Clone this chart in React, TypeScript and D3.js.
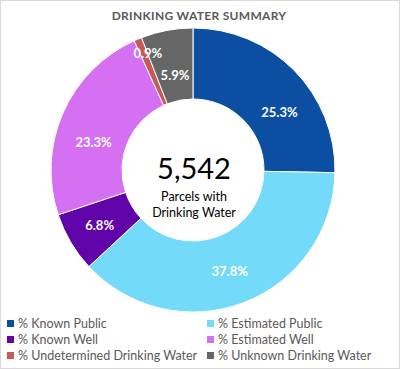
import React from 'react';
import * as d3 from 'd3';

const categories = [
  '% Known Public',
  '% Estimated Public',
  '% Known Well',
  '% Estimated Well',
  '% Undetermined Drinking Water',
  '% Unknown Drinking Water',
];
const shares = [25.3, 37.8, 6.8, 23.3, 0.9, 5.9];
const sliceColors = ['#0B4EA2', '#74DAF9', '#6003A8', '#D670F2', '#C55A56', '#666666'];
const totalParcels = 5542;
const title = 'DRINKING WATER SUMMARY';
const centerCaption = ['Parcels with', 'Drinking Water'];

// Excel pushes a few labels off the plain centroid
const labelNudge: Record<string, [number, number]> = {
  '% Known Public': [9, 18],
  '% Estimated Public': [-2, 0],
  '% Estimated Well': [0, 16],
  '% Undetermined Drinking Water': [5, 3],
  '% Unknown Drinking Water': [2, 12],
};

const W = 400;
const H = 369;
const cx = 193;
const cy = 170;
const outerR = 142;
const innerR = 71;
const font = 'Lato, "Open Sans", sans-serif';

const App = () => {
  const pie = d3.pie<number>().value((d) => d).sort(null);
  const arcs = pie(shares);
  const arc = d3.arc<d3.PieArcDatum<number>>().innerRadius(innerR).outerRadius(outerR);
  const labelArc = d3.arc<d3.PieArcDatum<number>>().innerRadius(innerR + 2).outerRadius(outerR + 2);
  const smallArc = d3.arc<d3.PieArcDatum<number>>().innerRadius(outerR * 0.88).outerRadius(outerR * 0.94);

  // legend grid: 2 columns x 3 rows
  const col = d3.scaleOrdinal<number, number>().domain([0, 1]).range([7, 207]);
  const row = d3.scaleLinear().domain([0, 2]).range([324, 356]);

  return (
    <svg width={W} height={H} style={{ position: 'absolute', left: 0, top: 0, background: '#fff' }}>
      <rect x={0.5} y={0.5} width={W - 1} height={H - 1} fill="#fff" stroke="#D9D9D9" />
      <text x={199} y={19.5} textAnchor="middle" fontFamily={font} fontWeight={700} fontSize={12} fill="#595959" letterSpacing={0.3}>
        {title}
      </text>
      <g transform={`translate(${cx},${cy})`}>
        {arcs.map((a, i) => (
          <path key={categories[i]} d={arc(a) ?? ''} fill={sliceColors[i]} stroke="#fff" strokeWidth={1} />
        ))}
        {arcs.map((a, i) => {
          const small = shares[i] < 2;
          const [x, y] = (small ? smallArc : labelArc).centroid(a);
          const [nx, ny] = labelNudge[categories[i]] ?? [0, 0];
          return (
            <text
              key={'l' + i}
              x={x + nx}
              y={y + ny}
              dy="0.35em"
              textAnchor="middle"
              fontFamily={font}
              fontWeight={700}
              fontSize={13}
              fill="#fff"
            >
              {shares[i].toFixed(1)}%
            </text>
          );
        })}
        <text x={1} y={9} textAnchor="middle" fontFamily={font} fontSize={29} fill="#000">
          {d3.format(',')(totalParcels)}
        </text>
        {centerCaption.map((t, i) => (
          <text key={t} x={1} y={31 + i * 16} textAnchor="middle" fontFamily={font} fontSize={12.5} fill="#000">
            {t}
          </text>
        ))}
      </g>
      {categories.map((c, i) => (
        <g key={c} transform={`translate(${col(i % 2)},${row(Math.floor(i / 2))})`}>
          <rect x={0} y={-4} width={7} height={7} fill={sliceColors[i]} />
          <text x={11} y={0} dy="0.35em" fontFamily={font} fontSize={12.5} fill="#595959">
            {c}
          </text>
        </g>
      ))}
    </svg>
  );
};

export default App;
